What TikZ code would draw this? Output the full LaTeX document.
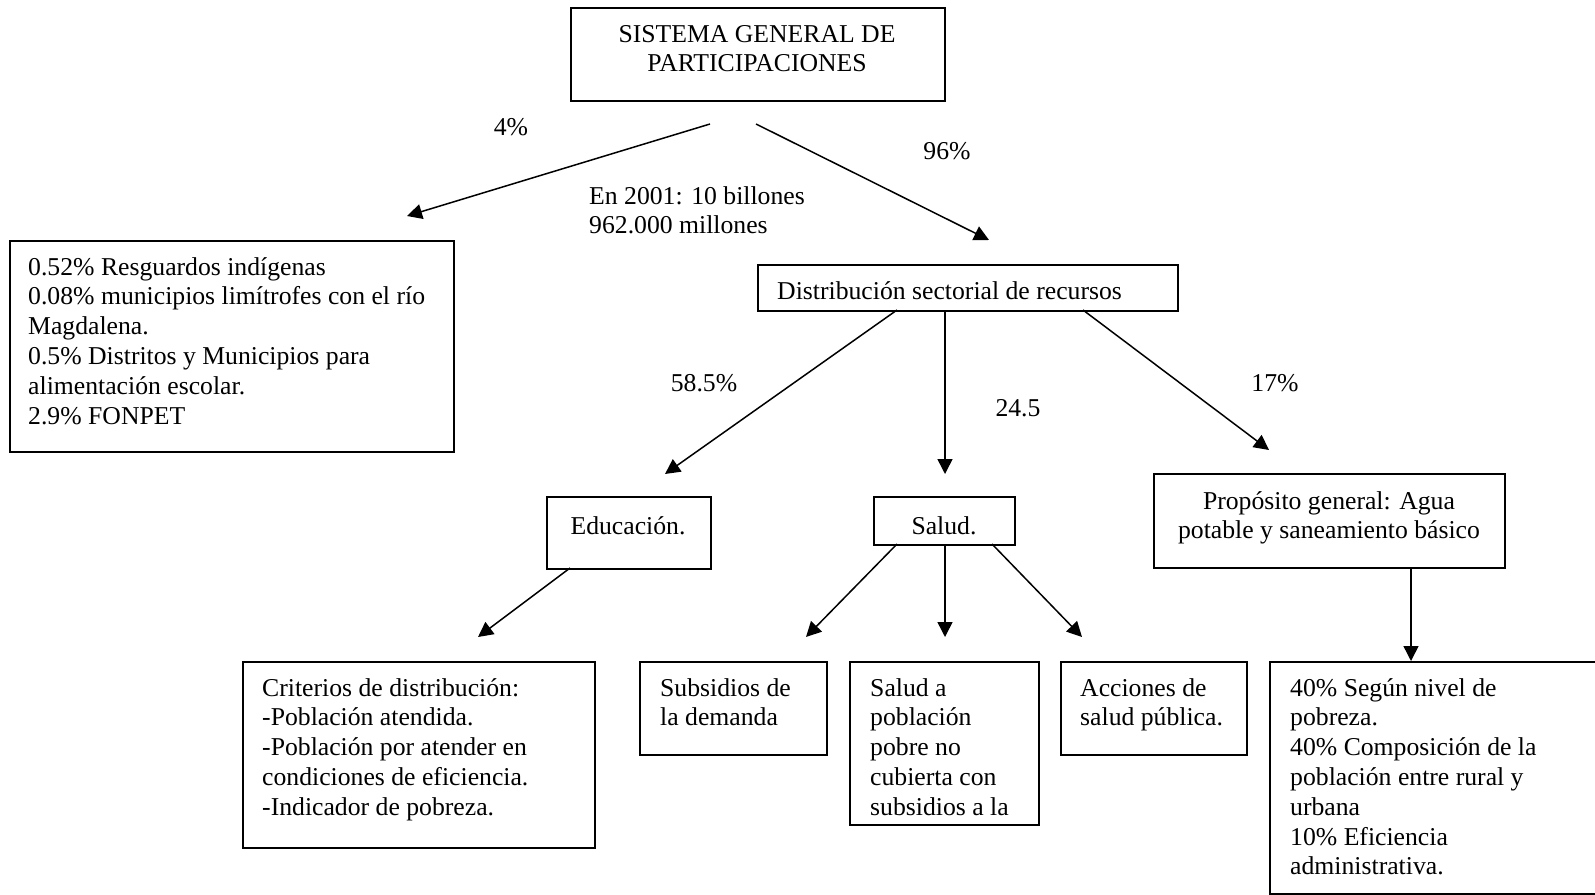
\documentclass[tikz,border=0pt]{standalone}
\usepackage{fontspec}
\setmainfont{Liberation Serif}
\usetikzlibrary{arrows.meta}
\newcommand\myfs{\fontsize{25.7}{29.8}\selectfont}
\begin{document}
\begin{tikzpicture}[x=1pt,y=-1pt,
  box/.style={draw, line width=1.6pt, anchor=north west, inner sep=0pt},
  txt/.style={anchor=north west, align=left, inner sep=0pt, font=\myfs},
  ctxt/.style={anchor=north, align=center, inner sep=0pt, font=\myfs},
  lbl/.style={anchor=base, inner sep=0pt, font=\myfs},
  arr/.style={line width=1.5pt, -{Triangle[length=15pt,width=15pt]}}]
\useasboundingbox (0,0) rectangle (1595,894);
\fill[white] (0,0) rectangle (1595,894);

% boxes
\node[box, minimum width=374pt, minimum height=93pt] (top) at (570,7) {};
\node[box, minimum width=444pt, minimum height=211pt] (left) at (9,240) {};
\node[box, minimum width=420pt, minimum height=46pt] (dist) at (757,264) {};
\node[box, minimum width=164pt, minimum height=72pt] (edu) at (546,496) {};
\node[box, minimum width=141pt, minimum height=48pt] (salud) at (873,496) {};
\node[box, minimum width=351pt, minimum height=94pt] (prop) at (1153,473) {};
\node[box, minimum width=352pt, minimum height=186pt] (crit) at (242,661) {};
\node[box, minimum width=187pt, minimum height=93pt] (subs) at (639,661) {};
\node[box, minimum width=189pt, minimum height=163pt] (pobre) at (849,661) {};
\node[box, minimum width=186pt, minimum height=93pt] (acc) at (1060,661) {};
\node[box, minimum width=345pt, minimum height=232pt] (agua) at (1269,661) {};

% texts
\node[ctxt] (topT) at (757,21) {\strut SISTEMA GENERAL DE\\PARTICIPACIONES};
\node[txt] (leftT) at (28,254) {\strut 0.52\% Resguardos indígenas\\0.08\% municipios limítrofes con el río\\Magdalena.\\0.5\% Distritos y Municipios para\\alimentación escolar.\\2.9\% FONPET};
\node[txt] (distT) at (777,278) {\strut Distribución sectorial de recursos};
\node[lbl] (eduT) at (628,534) {Educación.};
\node[lbl] (saludT) at (944,534) {Salud.};
\node[ctxt] (propT) at (1329,488) {\strut Propósito general: Agua\\potable y saneamiento básico};
\node[txt] (critT) at (262,675) {\strut Criterios de distribución:\\-Población atendida.\\-Población por atender en\\condiciones de eficiencia.\\-Indicador de pobreza.};
\node[txt] (subsT) at (660,675) {\strut Subsidios de\\la demanda};
\node[txt] (pobreT) at (870,675) {\strut Salud a\\población\\pobre no\\cubierta con\\subsidios a la};
\node[txt] (accT) at (1080,675) {\strut Acciones de\\salud pública.};
\node[txt] (aguaT) at (1290,675) {\strut 40\% Según nivel de\\pobreza.\\40\% Composición de la\\población entre rural y\\urbana\\10\% Eficiencia\\administrativa.};

% labels
\node[lbl] (l4) at (511,135) {4\%};
\node[lbl] (l96) at (947,159) {96\%};
\node[txt] (lEn) at (589,183) {\strut En 2001: 10 billones\\962.000 millones};
\node[lbl] (l585) at (704,391) {58.5\%};
\node[lbl] (l245) at (1018,416) {24.5};
\node[lbl] (l17) at (1275,391) {17\%};

% arrow end points
\coordinate (a1s) at (710,124); \coordinate (a1e) at (407,216);
\coordinate (a2s) at (756,124); \coordinate (a2e) at (989,240);
\coordinate (a3s) at (897,310); \coordinate (a3e) at (665,474);
\coordinate (a4s) at (945,310); \coordinate (a4e) at (945,474);
\coordinate (a5s) at (1083,310); \coordinate (a5e) at (1269,450);
\coordinate (a6s) at (570,568); \coordinate (a6e) at (478,637);
\coordinate (a7s) at (897,544); \coordinate (a7e) at (806,637);
\coordinate (a8s) at (945,544); \coordinate (a8e) at (945,637);
\coordinate (a9s) at (992,544); \coordinate (a9e) at (1082,637);
\coordinate (a10s) at (1411,567); \coordinate (a10e) at (1411,661);

\foreach \i in {1,...,10} {\draw[arr] (a\i s) -- (a\i e);}
\end{tikzpicture}
\end{document}
